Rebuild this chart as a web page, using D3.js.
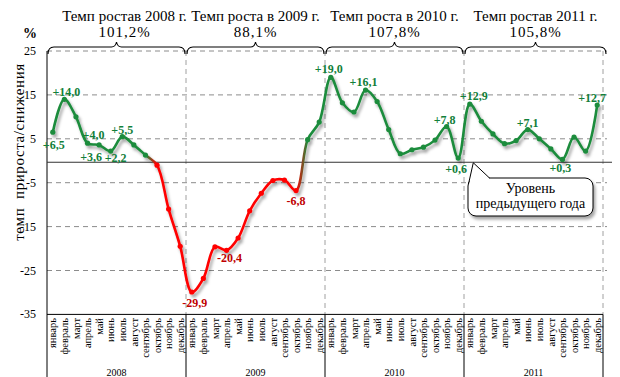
<!DOCTYPE html>
<html><head><meta charset="utf-8">
<script src="https://cdn.jsdelivr.net/npm/d3@7"></script>
<style>body{margin:0;background:#fff}svg{display:block}</style>
</head><body><div id="c"></div>
<script>
const years = ["2008","2009","2010","2011"];
const months = ["январь","февраль","март","апрель","май","июнь","июль","август","сентябрь","октябрь","ноябрь","декабрь"];
const yearTitles = ["Темп ростав 2008 г.","Темп роста в 2009 г.","Темп роста в 2010 г.","Темп ростав 2011 г."];
const yearGrowth = ["101,2%","88,1%","107,8%","105,8%"];
const v2008 = [6.5,14.0,10.0,4.0,3.6,2.2,5.5,3.6,1.3,-1.0,-11.0,-19.5];
const v2009 = [-29.9,-26.8,-19.6,-20.4,-17.6,-11.4,-7.4,-4.5,-4.4,-6.8,4.8,8.8];
const v2010 = [19.0,13.2,11.1,16.1,13.5,7.1,1.6,2.5,3.1,4.7,7.8,0.6];
const v2011 = [12.9,9.0,6.1,3.9,4.6,7.1,5.0,2.7,0.3,5.4,2.2,12.7];
const yTicks = [25,15,5,-5,-15,-25,-35];
const pointLabels = [[0,"+6,5"],[1,"+14,0"],[3,"+4,0"],[4,"+3,6"],[5,"+2,2"],[6,"+5,5"],[12,"-29,9"],[15,"-20,4"],[21,"-6,8"],[24,"+19,0"],[27,"+16,1"],[34,"+7,8"],[35,"+0,6"],[36,"+12,9"],[41,"+7,1"],[44,"+0,3"],[47,"+12,7"]];
const calloutText = ["Уровень","предыдущего года"];

const values = [].concat(v2008,v2009,v2010,v2011);
const labelOffsets = {0:[1,17],1:[2,-3],3:[6,-4],4:[-8,16],5:[5,11],6:[0,-3],12:[3,15],15:[3,12],21:[0,14],24:[-2,-4],27:[-2,-4],34:[-2,-3],35:[-2,15],36:[4,-4],41:[0,-3],44:[-2,13],47:[-5,-3]};

const FONT="'Liberation Serif','Times New Roman','DejaVu Serif',serif";
const W=620,H=377;
const svg=d3.select("#c").append("svg").attr("width",W).attr("height",H).attr("font-family",FONT);
const x=d3.scaleBand().domain(d3.range(values.length)).range([47,603]);
const y=d3.scaleLinear().domain([-35,25]).range([314.4,51]);
const cx=i=>x(i)+x.bandwidth()/2;
const GREEN="#1c8c3c", RED="#ff0000";

const defs=svg.append("defs");
const f=defs.append("filter").attr("id","sh").attr("x","-10%").attr("y","-10%").attr("width","130%").attr("height","130%");
f.append("feDropShadow").attr("dx",2).attr("dy",3).attr("stdDeviation",1.4).attr("flood-color","#000").attr("flood-opacity",0.35);
const g=defs.append("linearGradient").attr("id","lg").attr("gradientUnits","userSpaceOnUse").attr("x1",47).attr("x2",603).attr("y1",0).attr("y2",0);
const fr=v=>(v-47)/556;
[[0,GREEN],[fr(cx(8)),GREEN],[fr(cx(9)),RED],[fr(cx(21)),RED],[fr(cx(22)),GREEN],[1,GREEN]].forEach(s=>g.append("stop").attr("offset",s[0]).attr("stop-color",s[1]));

// horizontal grid
svg.append("g").selectAll("line").data(yTicks.filter(t=>t>-35)).join("line")
 .attr("x1",47).attr("x2",607).attr("y1",d=>y(d)).attr("y2",d=>y(d))
 .attr("stroke","#8c8c8c").attr("stroke-dasharray","5,4");
// vertical grid at year ends
const bounds=years.map((yr,k)=>x(k*12+11)+x.bandwidth());
svg.append("g").selectAll("line").data(bounds).join("line")
 .attr("x1",d=>d).attr("x2",d=>d).attr("y1",y(25)).attr("y2",y(-35))
 .attr("stroke","#a0a0a0").attr("stroke-dasharray","5,4");

// y tick labels
svg.append("g").selectAll("text").data(yTicks).join("text")
 .attr("x",36).attr("y",d=>y(d)+4).attr("text-anchor","end").attr("font-size",12).text(d=>d);
svg.append("text").attr("x",30).attr("y",38).attr("text-anchor","middle").attr("font-size",14).attr("font-weight","bold").text("%");
svg.append("text").attr("transform","translate(24,152) rotate(-90)").attr("text-anchor","middle").attr("font-size",15).attr("letter-spacing",0.6).attr("xml:space","preserve").text("темп  прироста/снижения");

// axes lines
svg.append("line").attr("x1",47).attr("x2",47).attr("y1",y(25)).attr("y2",H).attr("stroke","#000");
svg.append("line").attr("x1",47).attr("x2",603).attr("y1",y(-35)).attr("y2",y(-35)).attr("stroke","#000");
svg.append("g").selectAll("line").data(bounds).join("line")
 .attr("x1",d=>d).attr("x2",d=>d).attr("y1",y(-35)).attr("y2",H).attr("stroke","#000");

// baseline (previous year level)
svg.append("line").attr("x1",47).attr("x2",612).attr("y1",y(0)+1.5).attr("y2",y(0)+1.5).attr("stroke","#333").attr("stroke-width",1.2);

// month labels
svg.append("g").selectAll("text").data(values).join("text")
 .attr("transform",(d,i)=>`translate(${cx(i)},318) rotate(-90)`).attr("dy","0.35em")
 .attr("text-anchor","end").attr("font-size",10.5).text((d,i)=>months[i%12]);
// year labels
svg.append("g").selectAll("text").data(years).join("text")
 .attr("x",(d,k)=>(x(k*12)+bounds[k])/2).attr("y",376).attr("text-anchor","middle").attr("font-size",10).text(d=>d);

// braces & titles
years.forEach((yr,k)=>{
  const x0=x(k*12), x1=bounds[k]+(k===3?4:0), m=(x0+x1)/2;
  const p=`M${x0+1},54 Q${x0+1},47 ${x0+7},47 L${m-5},47 Q${m-1},47 ${m},42 Q${m+1},47 ${m+5},47 L${x1-7},47 Q${x1-1},47 ${x1-1},54`;
  svg.append("path").attr("d",p).attr("fill","none").attr("stroke","#000").attr("stroke-width",1.1);
  svg.append("text").attr("x",m+(k===0?8:0)).attr("y",21).attr("text-anchor","middle").attr("font-size",15).text(yearTitles[k]);
  svg.append("text").attr("x",m+(k===0?8:0)).attr("y",37).attr("text-anchor","middle").attr("font-size",15).attr("letter-spacing",1).text(yearGrowth[k]);
});

// line
const line=d3.line().x((d,i)=>cx(i)).y(d=>y(d)).curve(d3.curveCatmullRom.alpha(0.5));
const lg=svg.append("g").attr("filter","url(#sh)");
lg.append("path").attr("d",line(values)).attr("fill","none").attr("stroke","url(#lg)").attr("stroke-width",2.6);
const col=i=>(i>=9&&i<=21)?RED:GREEN;
lg.selectAll("circle").data(values).join("circle").attr("cx",(d,i)=>cx(i)).attr("cy",d=>y(d)).attr("r",2.6).attr("fill",(d,i)=>col(i));

// point labels
svg.append("g").selectAll("text").data(pointLabels).join("text")
 .attr("x",d=>cx(d[0])+labelOffsets[d[0]][0]).attr("y",d=>y(values[d[0]])+labelOffsets[d[0]][1])
 .attr("text-anchor","middle").attr("font-size",12).attr("font-weight","bold")
 .attr("fill",d=>values[d[0]]<0?"#c00000":"#12803a").text(d=>d[1]);

// callout
const cg=svg.append("g");
const bx=468,by=178,bw=125,bh=38;
cg.append("rect").attr("x",bx).attr("y",by).attr("width",bw).attr("height",bh).attr("rx",8).attr("fill","#fff").attr("stroke","#000").attr("filter","url(#sh)");
cg.append("polygon").attr("points",`${bx+1},${by+6} ${cx(36)+3.5},${y(0)+2} ${bx+22},${by+0.6} ${bx+22},${by+3} ${bx+1},${by+8}`).attr("fill","#fff");
cg.append("polyline").attr("points",`${bx+0.5},${by+6} ${cx(36)+3.5},${y(0)+2} ${bx+22},${by+0.5}`).attr("fill","none").attr("stroke","#000");
cg.selectAll("text").data(calloutText).join("text").attr("x",bx+bw/2).attr("y",(d,i)=>by+15+i*15)
 .attr("text-anchor","middle").attr("font-size",14).text(d=>d);
</script></body></html>
